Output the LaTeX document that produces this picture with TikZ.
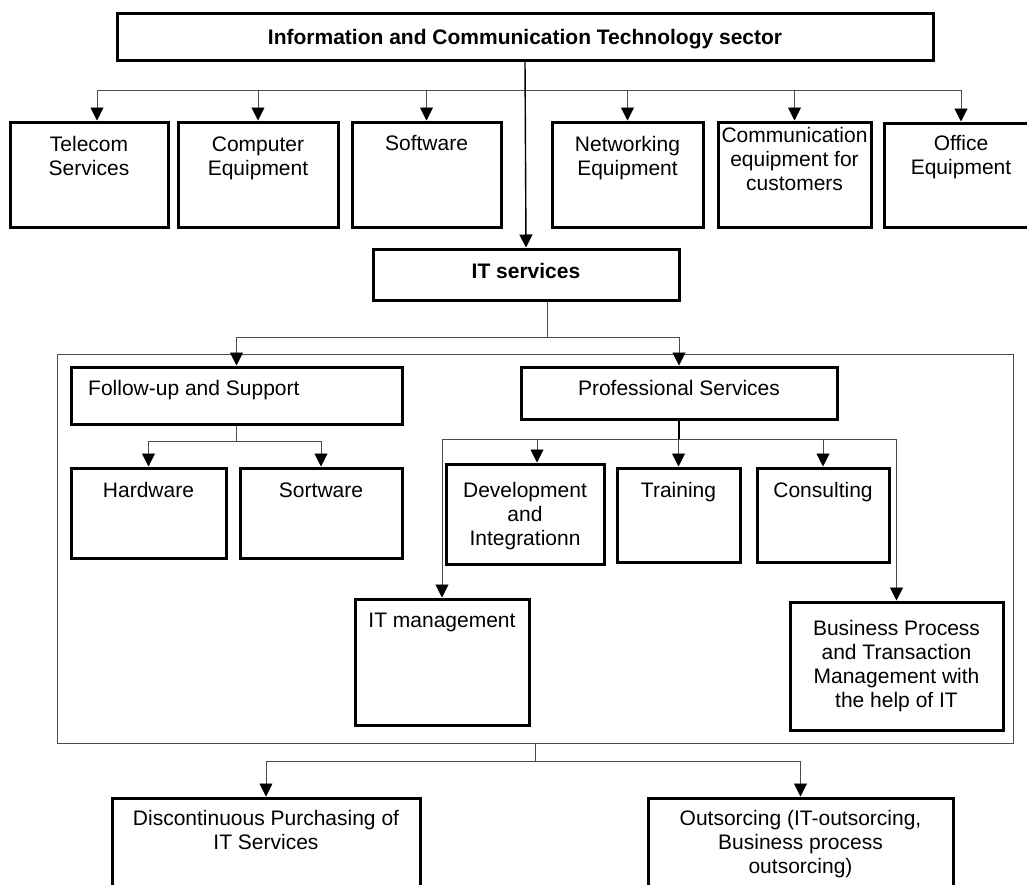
\documentclass[tikz,border=0pt]{standalone}
\usepackage{fontspec}
\setmainfont{Liberation Sans}
\usetikzlibrary{fit,arrows.meta}
\newcommand\fst{\rule{0pt}{16pt}}
\begin{document}
\begin{tikzpicture}[x=1pt,y=-1pt,
  box/.style={draw, line width=3pt, inner sep=0pt},
  grp/.style={draw=black!70, line width=0.9pt, inner sep=0pt},
  txt/.style={anchor=north, inner sep=0pt, align=center, font=\fontsize{21}{24}\selectfont},
  btxt/.style={txt, font=\fontsize{21}{24}\selectfont\bfseries},
  conn/.style={draw=black!70, line width=0.9pt},
  trunk/.style={draw=black, line width=1.4pt},
  arr/.style={conn, -{Triangle[length=13pt,width=13pt,color=black]}},
  tarr/.style={trunk, -{Triangle[length=13pt,width=13pt,color=black]}}
]
\useasboundingbox (0,0) rectangle (1027,884);
% boxes
\node[box, fit={(117,13) (933,60)}] (title) {};
\node[box, fit={(10,122) (168,227)}] (tel) {};
\node[box, fit={(178,122) (338,227)}] (comp) {};
\node[box, fit={(352,122) (501,227)}] (soft) {};
\node[box, fit={(552,122) (703,227)}] (net) {};
\node[box, fit={(718,122) (871,227)}] (comm) {};
\node[box, fit={(884,123) (1038,227)}] (off) {};
\node[box, fit={(373,249) (679,300)}] (its) {};
\node[grp, fit={(57,354) (1013,743)}] (cont) {};
\node[box, fit={(71,367) (402,424)}] (fu) {};
\node[box, fit={(521,367) (837,419)}] (ps) {};
\node[box, fit={(71,468) (226,558)}] (hw) {};
\node[box, fit={(240,468) (402,558)}] (sw) {};
\node[box, fit={(446,464) (604,564)}] (dev) {};
\node[box, fit={(617,468) (740,562)}] (tr) {};
\node[box, fit={(757,468) (889,562)}] (cons) {};
\node[box, fit={(355,599) (529,725)}] (itm) {};
\node[box, fit={(790,602) (1003,730)}] (bp) {};
\node[box, fit={(112,798) (420,930)}] (disc) {};
\node[box, fit={(648,798) (953,930)}] (outs) {};
% texts
\node[btxt] (title-t) at (525,28) {\fst Information and Communication Technology sector};
\node[txt] (tel-t) at (89,135) {\fst Telecom\\Services};
\node[txt] (comp-t) at (258,135) {\fst Computer\\Equipment};
\node[txt] (soft-t) at (426.5,134) {\fst Software};
\node[txt] (net-t) at (627.5,135) {\fst Networking\\Equipment};
\node[txt] (comm-t) at (794.5,126) {\fst Communication\\equipment for\\customers};
\node[txt] (off-t) at (961,134) {\fst Office\\Equipment};
\node[btxt] (its-t) at (526,262) {\fst IT services};
\node[txt, anchor=north west] (fu-t) at (88,379) {\fst Follow-up and Support};
\node[txt] (ps-t) at (679,379) {\fst Professional Services};
\node[txt] (hw-t) at (148.5,481) {\fst Hardware};
\node[txt] (sw-t) at (321,481) {\fst Sortware};
\node[txt] (dev-t) at (525,481) {\fst Development\\and\\Integrationn};
\node[txt] (tr-t) at (678.5,481) {\fst Training};
\node[txt] (cons-t) at (823,481) {\fst Consulting};
\node[txt] (itm-t) at (442,611) {\fst IT management};
\node[txt] (bp-t) at (896.5,619) {\fst Business Process\\and Transaction\\Management with\\the help of IT};
\node[txt] (disc-t) at (266,809) {\fst Discontinuous Purchasing of\\IT Services};
\node[txt] (outs-t) at (800.5,809) {\fst Outsorcing (IT-outsorcing,\\Business process\\outsorcing)};
% connectors: level 1
\coordinate (b0) at (526,90);
\draw[arr] (b0) -| ([xshift=8pt]tel.north);
\draw[arr] (b0) -| (comp.north);
\draw[arr] (b0) -| (soft.north);
\draw[arr] (b0) -| (net.north);
\draw[arr] (b0) -| (comm.north);
\draw[arr] (b0) -| (off.north);
\draw[tarr] (title.south) -- (its.north);
% IT services
\coordinate (c0) at ([xshift=21pt]its.south);
\coordinate (c1) at (547,337);
\draw[conn] (c0) -- (c1);
\draw[arr] (c1) -| (fu.north);
\draw[arr] (c1) -| (ps.north);
% follow-up
\coordinate (d1) at (236.5,441);
\draw[conn] (fu.south) -- (d1);
\draw[arr] (d1) -| (hw.north);
\draw[arr] (d1) -| (sw.north);
% professional
\coordinate (e1) at (679,439);
\draw[trunk] (ps.south) -- (e1);
\draw[arr] (e1) -| ([xshift=12pt]dev.north);
\draw[arr] (e1) -| (tr.north);
\draw[arr] (e1) -| (cons.north);
\draw[arr] (e1) -| (itm.north);
\draw[arr] (e1) -| (bp.north);
% container
\coordinate (f1) at (535,761);
\draw[conn] (cont.south) -- (f1);
\draw[arr] (f1) -| (disc.north);
\draw[arr] (f1) -| (outs.north);
\end{tikzpicture}
\end{document}
